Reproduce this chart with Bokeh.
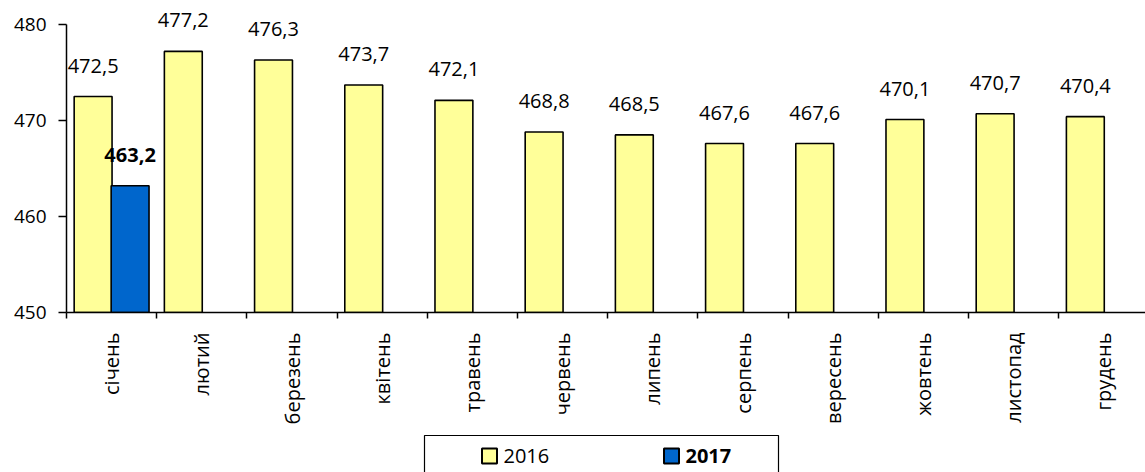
import math
from bokeh.plotting import figure
from bokeh.models import ColumnDataSource, Range1d, FixedTicker
from bokeh.layouts import column
from bokeh.transform import dodge
from bokeh.core.properties import value
from bokeh.embed import file_html
from bokeh.resources import INLINE

months = ["січень", "лютий", "березень", "квітень", "травень", "червень",
          "липень", "серпень", "вересень", "жовтень", "листопад", "грудень"]
values_2016 = [472.5, 477.2, 476.3, 473.7, 472.1, 468.8, 468.5, 467.6, 467.6, 470.1, 470.7, 470.4]
months_2017 = ["січень"]
values_2017 = [463.2]
y_ticks = [450, 460, 470, 480]
series_names = ["2016", "2017"]

FONT = "Open Sans"
C2016 = "#FFFF99"
C2017 = "#0066CC"
BASE = 450


def fmt(v):
    return f"{v:.1f}".replace(".", ",")


src16 = ColumnDataSource(dict(x=list(range(len(months))), v=values_2016,
                              lab=[fmt(v) for v in values_2016]))
src17 = ColumnDataSource(dict(x=[months.index(m) for m in months_2017], v=values_2017,
                              lab=[fmt(v) for v in values_2017]))

p = figure(width=1145, height=428,
           x_range=Range1d(-0.5, 11.462), y_range=Range1d(450, 482.5),
           output_backend="svg", toolbar_location=None,
           min_border_left=66, min_border_right=0, min_border_top=0, min_border_bottom=116)
p.outline_line_color = None
p.grid.visible = False
p.background_fill_color = "white"

OFF = 0.205
W = 0.42
p.vbar(x=dodge("x", -OFF), top="v", bottom=BASE, width=W, source=src16,
       fill_color=C2016, line_color="black", line_width=1.6)
p.vbar(x=dodge("x", OFF), top="v", bottom=BASE, width=W, source=src17,
       fill_color=C2017, line_color="black", line_width=1.6)

p.text(x=dodge("x", -OFF), y="v", text="lab", source=src16,
       text_align="center", text_baseline="alphabetic", y_offset=-31,
       text_font=value(FONT), text_font_size="20px", text_color="black")
p.text(x=dodge("x", OFF), y="v", text="lab", source=src17,
       text_align="center", text_baseline="alphabetic", y_offset=-31,
       text_font=value(FONT), text_font_size="20px", text_font_style="bold",
       text_color="black")

# x axis
xa = p.xaxis[0]
xa.ticker = FixedTicker(ticks=list(range(len(months))),
                        minor_ticks=[i - 0.5 for i in range(len(months) + 1)])
xa.major_label_overrides = {i: m for i, m in enumerate(months)}
xa.major_label_orientation = math.pi / 2
xa.major_tick_line_color = None
xa.major_tick_out = 0
xa.major_tick_in = 0
xa.minor_tick_line_color = "black"
xa.minor_tick_line_width = 1.5
xa.minor_tick_out = 6
xa.minor_tick_in = 0
xa.major_label_standoff = 14
xa.major_label_text_font = FONT
xa.major_label_text_font_size = "20px"
xa.major_label_text_color = "black"
xa.axis_line_color = "black"
xa.axis_line_width = 1.5

ya = p.yaxis[0]
ya.ticker = FixedTicker(ticks=y_ticks)
ya.bounds = (y_ticks[0], y_ticks[-1])
ya.major_tick_out = 8
ya.major_tick_in = 0
ya.major_tick_line_color = "black"
ya.major_tick_line_width = 1.5
ya.minor_tick_line_color = None
ya.major_label_standoff = 12
ya.major_label_text_font = FONT
ya.major_label_text_font_size = "19px"
ya.major_label_text_color = "black"
ya.axis_line_color = "black"
ya.axis_line_width = 1.5

# legend strip (its frame is aligned with the main frame: x from 66 to 1145 on the page)
leg = figure(width=1145, height=44, x_range=Range1d(66, 1145), y_range=Range1d(0, 44),
             output_backend="svg", toolbar_location=None,
             x_axis_location=None, y_axis_location=None, min_border=0)
leg.outline_line_color = None
leg.grid.visible = False
leg.line(x=[424, 424, 778, 778], y=[-3, 37, 37, -3], line_color="black", line_width=1.2)
leg.scatter(x=[489, 671], y=[16.5, 16.5], marker="square", size=15,
            fill_color=[C2016, C2017], line_color="black", line_width=2)
leg.text(x=[503], y=[16.5], text=[series_names[0]], text_align="left",
         text_baseline="middle", text_font=value(FONT), text_font_size="20px",
         text_color="black")
leg.text(x=[685], y=[16.5], text=[series_names[1]], text_align="left",
         text_baseline="middle", text_font=value(FONT), text_font_size="20px",
         text_font_style="bold", text_color="black")

layout = column(p, leg, spacing=0)
open("out.html", "w").write(file_html(layout, INLINE))
